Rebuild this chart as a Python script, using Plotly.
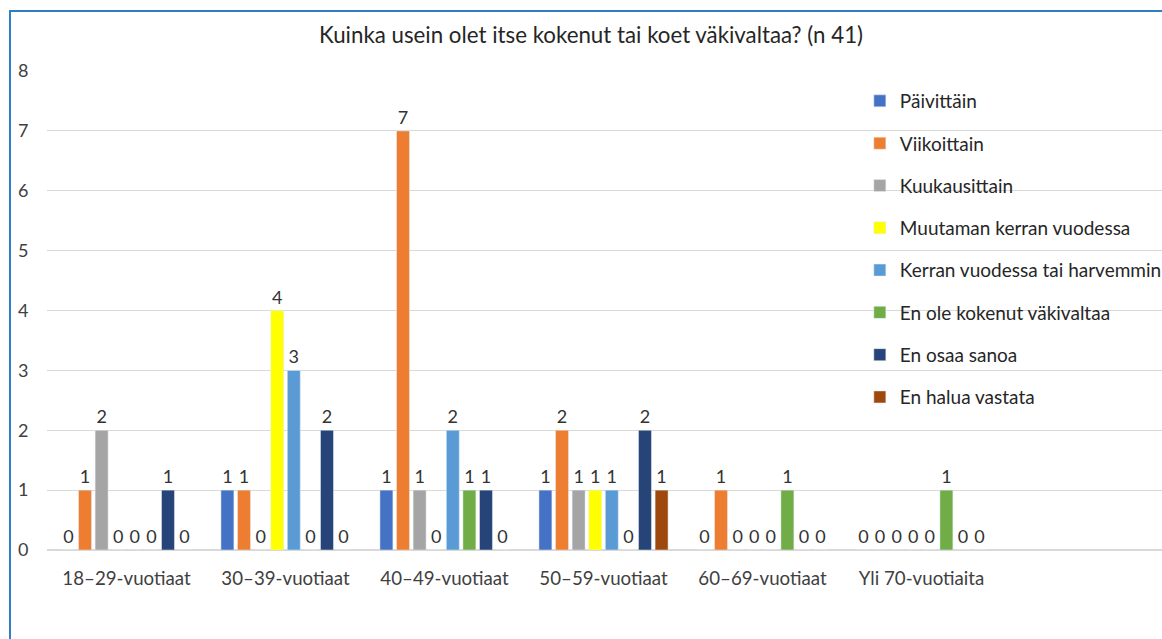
import plotly.graph_objects as go

categories = ["18–29-vuotiaat", "30–39-vuotiaat", "40–49-vuotiaat",
              "50–59-vuotiaat", "60–69-vuotiaat", "Yli 70-vuotiaita"]
series_names = ["Päivittäin", "Viikoittain", "Kuukausittain",
                "Muutaman kerran vuodessa", "Kerran vuodessa tai harvemmin",
                "En ole kokenut väkivaltaa", "En osaa sanoa", "En halua vastata"]
paivittain = [0, 1, 1, 1, 0, 0]
viikoittain = [1, 1, 7, 2, 1, 0]
kuukausittain = [2, 0, 1, 1, 0, 0]
muutaman = [0, 4, 0, 1, 0, 0]
kerran = [0, 3, 2, 1, 0, 0]
en_ole = [0, 0, 1, 0, 1, 1]
en_osaa = [1, 2, 1, 2, 0, 0]
en_halua = [0, 0, 0, 1, 0, 0]
series_values = [paivittain, viikoittain, kuukausittain, muutaman,
                 kerran, en_ole, en_osaa, en_halua]
colors = ["#4472C4", "#ED7D31", "#A5A5A5", "#FFFF00",
          "#5B9BD5", "#70AD47", "#264478", "#9E480E"]

FONT = "Lato, Calibri, Carlito, sans-serif"
xpos = list(range(len(categories)))

W, H = 1162, 639
ML, MT, PW, PH = 47, 71, 1115, 479
CAT_W = 159.0  # pixels per category slot

fig = go.Figure()
for i, (name, vals, col) in enumerate(zip(series_names, series_values, colors)):
    fig.add_trace(go.Bar(
        x=xpos, y=vals, name=name, marker_color=col,
        text=[str(v) for v in vals], textposition="outside",
        textfont=dict(size=18, color="#333333", family=FONT),
        cliponaxis=False, legendgroup=f"g{i}",
    ))

fig.update_layout(
    width=W, height=H,
    margin=dict(l=ML, r=W - ML - PW, t=MT, b=H - MT - PH, pad=0, autoexpand=False),
    paper_bgcolor="white", plot_bgcolor="white",
    barmode="group", bargap=0.165, bargroupgap=0.22,
    font=dict(family=FONT, color="#404040"),
    title=dict(text="Kuinka usein olet itse kokenut tai koet väkivaltaa? (n 41)",
               x=591 / W, xanchor="center", y=1 - 35 / H, yanchor="middle",
               yref="container", font=dict(size=22.3, color="#262626", family=FONT)),
    legend=dict(x=0.729, xanchor="left", y=0.977, yanchor="top",
                bgcolor="rgba(0,0,0,0)", font=dict(size=19, color="#262626", family=FONT),
                tracegroupgap=14.6, itemwidth=30),
    xaxis=dict(range=[-0.5, -0.5 + PW / CAT_W], tickmode="array", tickvals=xpos,
               ticktext=categories,
               showgrid=False, zeroline=False, showline=False,
               ticks="outside", ticklen=12, tickcolor="rgba(0,0,0,0)",
               tickfont=dict(size=18.7, color="#404040", family=FONT)),
    yaxis=dict(range=[0, 8], dtick=1, showgrid=True, gridcolor="#D9D9D9", gridwidth=1,
               zeroline=True, zerolinecolor="#D9D9D9", showline=False,
               ticks="outside", ticklen=14, tickcolor="rgba(0,0,0,0)",
               tickfont=dict(size=18, color="#404040", family=FONT)),
    showlegend=True,
)

# outer chart border (decoration)
fig.add_shape(type="rect", xref="paper", yref="paper",
              x0=(10 - ML) / PW, x1=1.2, y0=-0.3, y1=(MT + PH - 11) / PH,
              line=dict(color="#2F7EC1", width=2), fillcolor="rgba(0,0,0,0)", layer="below")

fig.write_html(
    "out.html",
    config={"displayModeBar": False},
    post_script="document.body.style.margin='0px';document.body.style.overflow='hidden';",
)
